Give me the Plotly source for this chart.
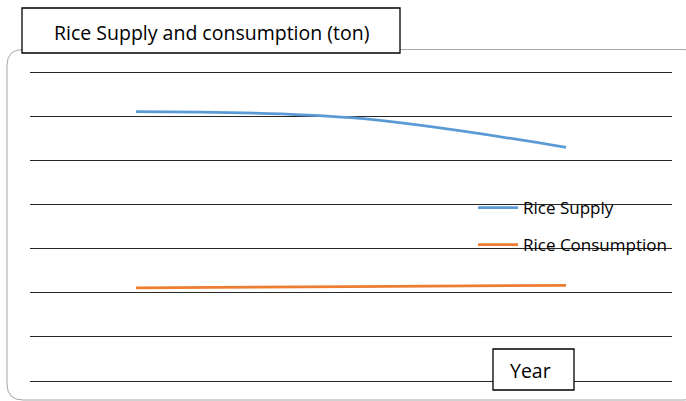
import plotly.graph_objects as go

# ---- data ----
years = ["Year 1", "Year 2", "Year 3"]
rice_supply = [6.11, 5.97, 5.30]
rice_consumption = [2.11, 2.14, 2.17]
series_names = ["Rice Supply", "Rice Consumption"]
title_text = "Rice Supply and consumption (ton)"
x_title = "Year"

W, H = 686, 401
FONT = "Open Sans"

def px(x):
    return x / W

def py(y):
    return 1 - y / H

# plot area in pixels
PL, PR = 30, 672
Y_TOP_GRID, Y_BOT_GRID = 72.3, 381.0
unit = (Y_BOT_GRID - Y_TOP_GRID) / 7
pad = 0.1
PT = Y_TOP_GRID - pad * unit
PB = Y_BOT_GRID + pad * unit

fig = go.Figure()
fig.add_trace(go.Scatter(
    x=years, y=rice_supply, name=series_names[0], mode="lines",
    line=dict(color="#5B9BD5", width=2.75, shape="spline", smoothing=1.0),
    legend="legend",
))
fig.add_trace(go.Scatter(
    x=years, y=rice_consumption, name=series_names[1], mode="lines",
    line=dict(color="#ED7D31", width=2.75, shape="spline", smoothing=1.0),
    legend="legend2",
))

# rounded outer border
bx0, by0, bx1, by1, r = 7, 49.5, 700, 400, 16
rx, ry = r / W, r / H
X0, X1, Y0, Y1 = px(bx0), px(bx1), py(by1), py(by0)
path = (f"M {X0+rx},{Y1} L {X1-rx},{Y1} Q {X1},{Y1} {X1},{Y1-ry} "
        f"L {X1},{Y0+ry} Q {X1},{Y0} {X1-rx},{Y0} L {X0+rx},{Y0} "
        f"Q {X0},{Y0} {X0},{Y0+ry} L {X0},{Y1-ry} Q {X0},{Y1} {X0+rx},{Y1} Z")

shapes = [
    dict(type="path", xref="paper", yref="paper", path=path,
         line=dict(color="#A6A6A6", width=1), fillcolor="rgba(0,0,0,0)", layer="below"),
    dict(type="rect", xref="paper", yref="paper",
         x0=px(22), x1=px(400), y0=py(53), y1=py(8),
         line=dict(color="#000000", width=1.3), fillcolor="white", layer="above"),
    dict(type="rect", xref="paper", yref="paper",
         x0=px(493), x1=px(574), y0=py(390), y1=py(349),
         line=dict(color="#000000", width=1.3), fillcolor="white", layer="above"),
]

annotations = [
    dict(text=title_text, xref="paper", yref="paper", x=px(211), y=py(32),
         xanchor="center", yanchor="middle", showarrow=False,
         font=dict(family=FONT, size=19.5, color="#000000")),
    dict(text=x_title, xref="paper", yref="paper", x=px(530), y=py(370),
         xanchor="center", yanchor="middle", showarrow=False,
         font=dict(family=FONT, size=19.5, color="#000000")),
]

fig.update_layout(
    width=W, height=H,
    margin=dict(l=0, r=0, t=0, b=0),
    paper_bgcolor="white", plot_bgcolor="rgba(0,0,0,0)",
    font=dict(family=FONT, size=17, color="#000000"),
    xaxis=dict(domain=[px(PL), px(PR)], range=[-0.493, 2.493], type="category",
               showgrid=False, showticklabels=False, zeroline=False, showline=False,
               ticks=""),
    yaxis=dict(domain=[py(PB), py(PT)], range=[-pad, 7 + pad], dtick=1, tick0=0,
               showgrid=True, gridcolor="#262626", gridwidth=1,
               showticklabels=False, zeroline=False, showline=False, ticks=""),
    legend=dict(x=px(473), y=py(208), xanchor="left", yanchor="middle",
                itemwidth=40,
                bgcolor="rgba(0,0,0,0)", borderwidth=0,
                font=dict(family=FONT, size=17, color="#000000")),
    legend2=dict(x=px(473), y=py(245), xanchor="left", yanchor="middle",
                 itemwidth=40,
                 bgcolor="rgba(0,0,0,0)", borderwidth=0,
                 font=dict(family=FONT, size=17, color="#000000")),
    shapes=shapes,
    annotations=annotations,
    showlegend=True,
)

fig.write_html("out.html", config={"displayModeBar": False},
               post_script="document.body.style.margin='0';")
